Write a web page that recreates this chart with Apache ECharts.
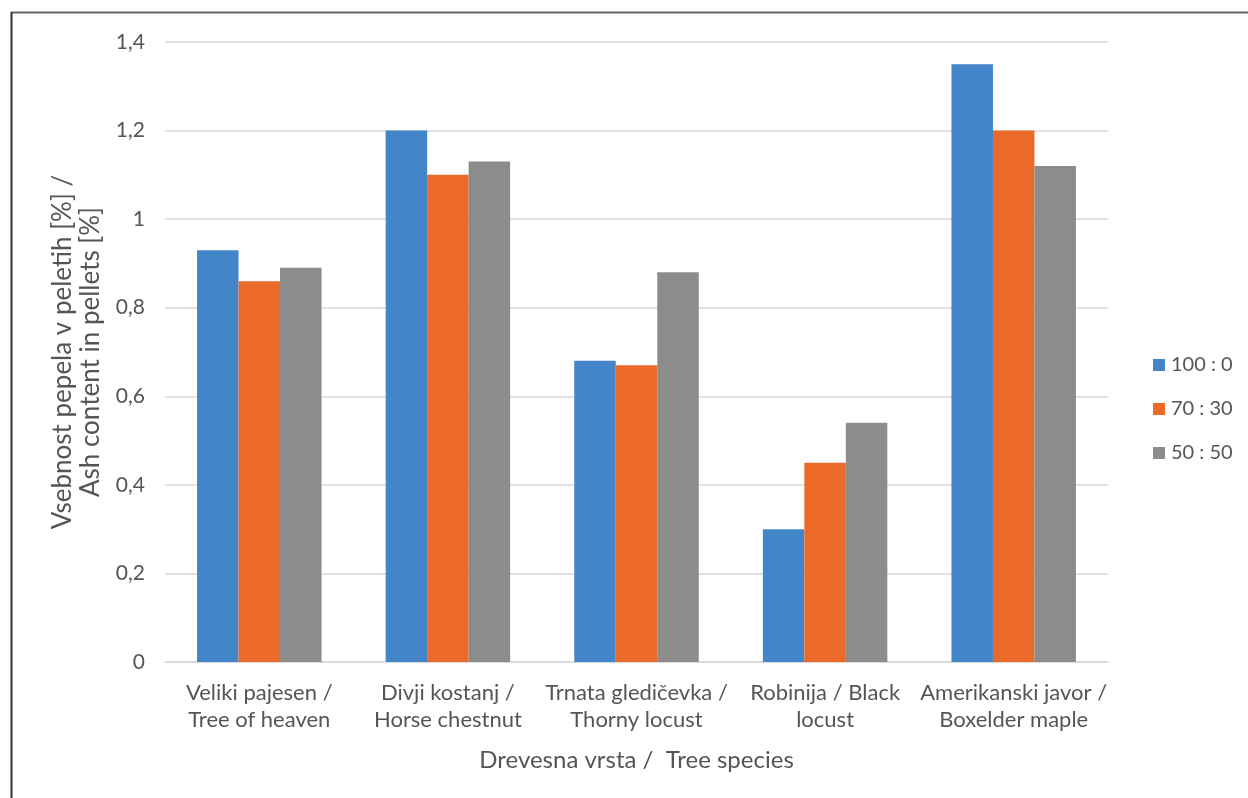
<!DOCTYPE html>
<html>
<head>
<meta charset="utf-8">
<script src="https://cdn.jsdelivr.net/npm/echarts@6/dist/echarts.min.js"></script>
<style>
  html, body { margin: 0; padding: 0; background: #fff; }
  #chart { width: 1248px; height: 798px; }
</style>
</head>
<body>
<div id="chart"></div>
<script>
// Tree species (Slovene / English)
const categories = [
  'Veliki pajesen /\nTree of heaven',
  'Divji kostanj /\nHorse chestnut',
  'Trnata gledičevka /\nThorny locust',
  'Robinija / Black\nlocust',
  'Amerikanski javor /\nBoxelder maple'
];
// Ash content [%] for each mixing ratio
const ratio100_0 = [0.93, 1.20, 0.68, 0.30, 1.35];
const ratio70_30 = [0.86, 1.10, 0.67, 0.45, 1.20];
const ratio50_50 = [0.89, 1.13, 0.88, 0.54, 1.12];
const seriesNames = ['100 : 0', '70 : 30', '50 : 50'];
const colors = ['#4285c8', '#eb6a2a', '#8c8c8c'];

const font = 'Lato, "Open Sans", sans-serif';
const textColor = '#555555';

const chart = echarts.init(document.getElementById('chart'));
chart.setOption({
  animation: false,
  textStyle: { fontFamily: font, color: textColor },
  grid: { left: 165, right: 140, top: 42, bottom: 136 },
  legend: {
    orient: 'vertical',
    left: 1148,
    top: 350,
    itemGap: 24,
    itemWidth: 12,
    itemHeight: 12,
    icon: 'rect',
    textStyle: { fontFamily: font, fontSize: 20, color: textColor, padding: [0, 0, 0, 1] },
    data: seriesNames
  },
  xAxis: {
    type: 'category',
    data: categories,
    name: 'Drevesna vrsta /  Tree species',
    nameLocation: 'middle',
    nameGap: 86,
    nameTextStyle: { fontFamily: font, fontSize: 24, color: textColor },
    axisLine: { lineStyle: { color: '#d9d9d9', width: 1.5 } },
    axisTick: { show: false },
    axisLabel: { fontFamily: font, fontSize: 22, color: textColor, lineHeight: 27, margin: 17, interval: 0 }
  },
  yAxis: {
    type: 'value',
    min: 0,
    max: 1.4,
    interval: 0.2,
    name: 'Vsebnost pepela v peletih [%] /\nAsh content in pellets [%]',
    nameLocation: 'middle',
    nameGap: 58,
    nameTextStyle: { fontFamily: font, fontSize: 26, color: textColor, lineHeight: 28 },
    axisLine: { show: false },
    axisTick: { show: false },
    splitLine: { lineStyle: { color: '#d9d9d9', width: 1.5 } },
    axisLabel: {
      fontFamily: font, fontSize: 21, color: textColor, margin: 20,
      formatter: v => String(Math.round(v * 10) / 10).replace('.', ',')
    }
  },
  series: [ratio100_0, ratio70_30, ratio50_50].map((d, i) => ({
    name: seriesNames[i],
    type: 'bar',
    data: d,
    barGap: '0%',
    barCategoryGap: '34%',
    itemStyle: { color: colors[i] }
  })),
  graphic: [
    { type: 'line', shape: { x1: 11, y1: 12.5, x2: 1248, y2: 12.5 }, style: { stroke: '#666', lineWidth: 2 } },
    { type: 'line', shape: { x1: 11.5, y1: 12, x2: 11.5, y2: 798 }, style: { stroke: '#333', lineWidth: 2 } }
  ]
});
</script>
</body>
</html>
